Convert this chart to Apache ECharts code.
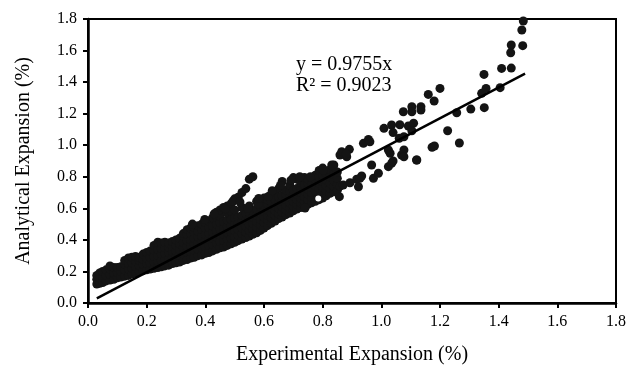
<!DOCTYPE html>
<html>
<head>
<meta charset="utf-8">
<script src="https://cdn.jsdelivr.net/npm/echarts@6/dist/echarts.min.js"></script>
<style>html,body{margin:0;padding:0;background:#fff;}#c{width:630px;height:367px;}</style>
</head>
<body>
<div id="c"></div>
<script>
// Axis ticks
const xTicks = [0.0, 0.2, 0.4, 0.6, 0.8, 1.0, 1.2, 1.4, 1.6, 1.8];
const yTicks = [0.0, 0.2, 0.4, 0.6, 0.8, 1.0, 1.2, 1.4, 1.6, 1.8];

// Dense band, lower part: [x, [y values]]
const bandLow = [
  [0.030,[.12,.15,.175]],
  [0.040,[.125,.16,.19]],
  [0.050,[.13,.165,.20]],
  [0.062,[.14,.175,.21]],
  [0.075,[.145,.18,.215,.235]],
  [0.088,[.15,.19,.225]],
  [0.100,[.16,.195,.225]],
  [0.112,[.165,.20,.23]],
  [0.125,[.17,.21,.245,.27]],
  [0.138,[.175,.215,.25,.285]],
  [0.150,[.185,.22,.255,.29]],
  [0.162,[.19,.23,.265,.295]],
  [0.175,[.20,.235,.27,.29]],
  [0.188,[.205,.245,.275,.31]],
  [0.200,[.21,.25,.285,.32]],
  [0.212,[.215,.255,.29,.33]],
  [0.225,[.22,.26,.295,.335,.365]],
  [0.238,[.225,.265,.30,.34,.385]],
  [0.250,[.23,.27,.31,.345,.38]],
  [0.262,[.235,.275,.315,.35,.385]],
  [0.275,[.24,.28,.32,.355,.38]],
  [0.288,[.25,.29,.325,.36,.39]],
  [0.300,[.255,.295,.33,.365,.40]]
];

// Dense band, middle part
const bandMid = [
  [0.312,[.26,.30,.34,.375,.41]],
  [0.325,[.27,.31,.35,.385,.425,.44]],
  [0.338,[.275,.32,.36,.395,.435,.465]],
  [0.350,[.285,.325,.365,.40,.44,.475]],
  [0.362,[.29,.335,.375,.41,.45,.48]],
  [0.375,[.30,.34,.38,.42,.455,.49]],
  [0.388,[.305,.35,.39,.425,.465,.50]],
  [0.400,[.315,.355,.395,.435,.475,.51]],
  [0.412,[.32,.365,.405,.44,.48,.52]],
  [0.425,[.33,.37,.41,.45,.49,.54]],
  [0.438,[.34,.38,.42,.46,.50,.545,.575]],
  [0.450,[.35,.39,.43,.47,.51,.55,.59]],
  [0.462,[.355,.395,.435,.475,.515,.605]],
  [0.475,[.365,.405,.445,.485,.525,.57,.615]],
  [0.488,[.375,.41,.45,.49,.53,.58,.63]],
  [0.500,[.385,.42,.46,.50,.54,.59,.66]],
  [0.512,[.395,.43,.465,.505,.545,.67]],
  [0.525,[.405,.44,.475,.515,.555,.605,.70]],
  [0.538,[.415,.45,.485,.525,.565,.725]],
  [0.550,[.425,.46,.495,.535,.575,.615,.785]],
  [0.562,[.435,.47,.505,.545,.585,.80]],
  [0.575,[.445,.48,.515,.555,.595,.645]],
  [0.588,[.46,.495,.53,.57,.61]]
];

// Dense band, upper part
const bandHigh = [
  [0.600,[.475,.51,.545,.58,.62,.665]],
  [0.612,[.49,.525,.555,.59,.63,.655]],
  [0.625,[.505,.54,.57,.605,.645,.69]],
  [0.638,[.52,.555,.585,.615,.655,.705]],
  [0.650,[.535,.565,.60,.635,.67,.725]],
  [0.662,[.545,.575,.61,.645,.68,.77]],
  [0.675,[.56,.59,.62,.655,.69,.715]],
  [0.688,[.57,.60,.635,.67,.705,.745]],
  [0.700,[.585,.615,.645,.68,.715,.795]],
  [0.712,[.595,.625,.655,.69,.725,.785]],
  [0.725,[.605,.635,.665,.70,.735,.765]],
  [0.738,[.615,.645,.675,.71,.75,.795]],
  [0.750,[.625,.655,.69,.72,.76,.785]],
  [0.762,[.635,.67,.70,.735,.755]],
  [0.775,[.645,.71,.745,.785,.81]],
  [0.788,[.655,.725,.76,.80,.84]],
  [0.800,[.665,.70,.735,.77,.81,.855]],
  [0.812,[.68,.71,.745,.78,.82]],
  [0.825,[.695,.725,.76,.80,.845]],
  [0.838,[.705,.74,.775,.815,.875]],
  [0.850,[.715,.75,.79,.83]]
];

// Loose points along the upper side of the band: [x, y]
const bandOutliers = [
  [0.356,0.500],[0.398,0.530],[0.430,0.565],[0.468,0.598],[0.494,0.645],[0.518,0.640],
  [0.545,0.600],[0.580,0.628],[0.615,0.675],[0.656,0.745],[0.692,0.778],[0.722,0.800],
  [0.758,0.800],[0.628,0.712],[0.582,0.662]
];

// Scattered points beyond the dense band: [x, y]
const sparsePts = [
  [0.859,0.741],[0.870,0.748],[0.857,0.674],[0.893,0.762],[0.916,0.784],[0.933,0.805],
  [0.922,0.737],[0.927,0.790],[0.967,0.875],[0.973,0.790],[0.990,0.822],[1.024,0.864],
  [1.035,0.885],[1.069,0.938],[1.121,0.906],[0.882,0.927],[0.859,0.938],[0.836,0.864],
  [0.802,0.843],[0.831,0.875],[0.865,0.959],[0.891,0.974],[0.880,0.945],[0.939,1.012],
  [0.956,1.037],[0.961,1.022],[1.009,1.107],[1.035,1.128],[1.063,1.130],[1.092,1.122],
  [1.110,1.140],[1.040,1.080],[1.061,1.044],[1.077,1.054],[1.104,1.092],[1.024,0.970],
  [1.030,0.949],[1.077,0.970],[1.077,0.927],[1.040,0.900],[1.120,0.906],[1.173,0.987],
  [1.181,0.995],[1.266,1.014],[1.226,1.092],[1.075,1.212],[1.104,1.244],[1.104,1.212],
  [1.135,1.244],[1.135,1.223],[1.180,1.280],[1.160,1.322],[1.200,1.360],[1.257,1.206],
  [1.305,1.229],[1.351,1.238],[1.342,1.329],[1.357,1.360],[1.405,1.365],[1.350,1.449],
  [1.410,1.487],[1.443,1.489],[1.441,1.586],[1.443,1.635],[1.482,1.631],[1.479,1.730],
  [1.484,1.787],[0.740,0.602]
];
// Hollow-looking point inside the band
const hollowPts = [[0.785, 0.663]];

// Linear fit y = 0.9755x, drawn between its end points
const fitLine = [[0.03, 0.029], [1.49, 1.454]];
const fitText = ['y = 0.9755x', 'R² = 0.9023'];

const points = [];
[bandLow, bandMid, bandHigh].forEach(function (band) {
  band.forEach(function (col) {
    col[1].forEach(function (y) { points.push([col[0], y]); });
  });
});
bandOutliers.forEach(function (p) { points.push(p); });
sparsePts.forEach(function (p) { points.push(p); });

const serif = "'Liberation Serif', 'DejaVu Serif', serif";
const chart = echarts.init(document.getElementById('c'), null, {renderer: 'canvas'});
chart.setOption({
  animation: false,
  backgroundColor: '#fff',
  grid: {left: 88, right: 14, top: 19, bottom: 64, outerBoundsMode: 'none', containLabel: false, show: true, borderColor: '#000', borderWidth: 2, backgroundColor: 'transparent'},
  xAxis: {
    type: 'value', min: xTicks[0], max: xTicks[xTicks.length - 1], interval: 0.2,
    name: 'Experimental Expansion (%)', nameLocation: 'middle', nameGap: 42,
    nameTextStyle: {fontFamily: serif, fontSize: 20, color: '#000'},
    axisLine: {show: true, lineStyle: {color: '#000', width: 2.5}},
    axisTick: {show: true, inside: false, length: 5, lineStyle: {color: '#000', width: 2}},
    axisLabel: {fontFamily: serif, fontSize: 16, color: '#000', margin: 11, formatter: function (v) { return v.toFixed(1); }},
    splitLine: {show: false}
  },
  yAxis: {
    type: 'value', min: yTicks[0], max: yTicks[yTicks.length - 1], interval: 0.2,
    name: 'Analytical Expansion (%)', nameLocation: 'middle', nameGap: 54,
    nameTextStyle: {fontFamily: serif, fontSize: 20, color: '#000'},
    axisLine: {show: true, lineStyle: {color: '#000', width: 2.5}},
    axisTick: {show: true, inside: false, length: 5, lineStyle: {color: '#000', width: 2}},
    axisLabel: {fontFamily: serif, fontSize: 16, color: '#000', margin: 11, formatter: function (v) { return v.toFixed(1); }},
    splitLine: {show: false}
  },
  graphic: [
    {type: 'text', left: 296, top: 55, style: {text: fitText[0], font: "20px 'Liberation Serif', serif", fill: '#000'}},
    {type: 'text', left: 296, top: 76, style: {text: fitText[1], font: "20px 'Liberation Serif', serif", fill: '#000'}}
  ],
  series: [
    {type: 'scatter', data: points, symbol: 'circle', symbolSize: 9, itemStyle: {color: '#141414', opacity: 1}, z: 2},
    {type: 'scatter', data: hollowPts, symbol: 'circle', symbolSize: 8, itemStyle: {color: '#fff', borderColor: '#141414', borderWidth: 2, opacity: 1}, z: 3},
    {type: 'line', data: fitLine, symbol: 'none', lineStyle: {color: '#000', width: 2.5}, z: 4}
  ]
});
</script>
</body>
</html>
